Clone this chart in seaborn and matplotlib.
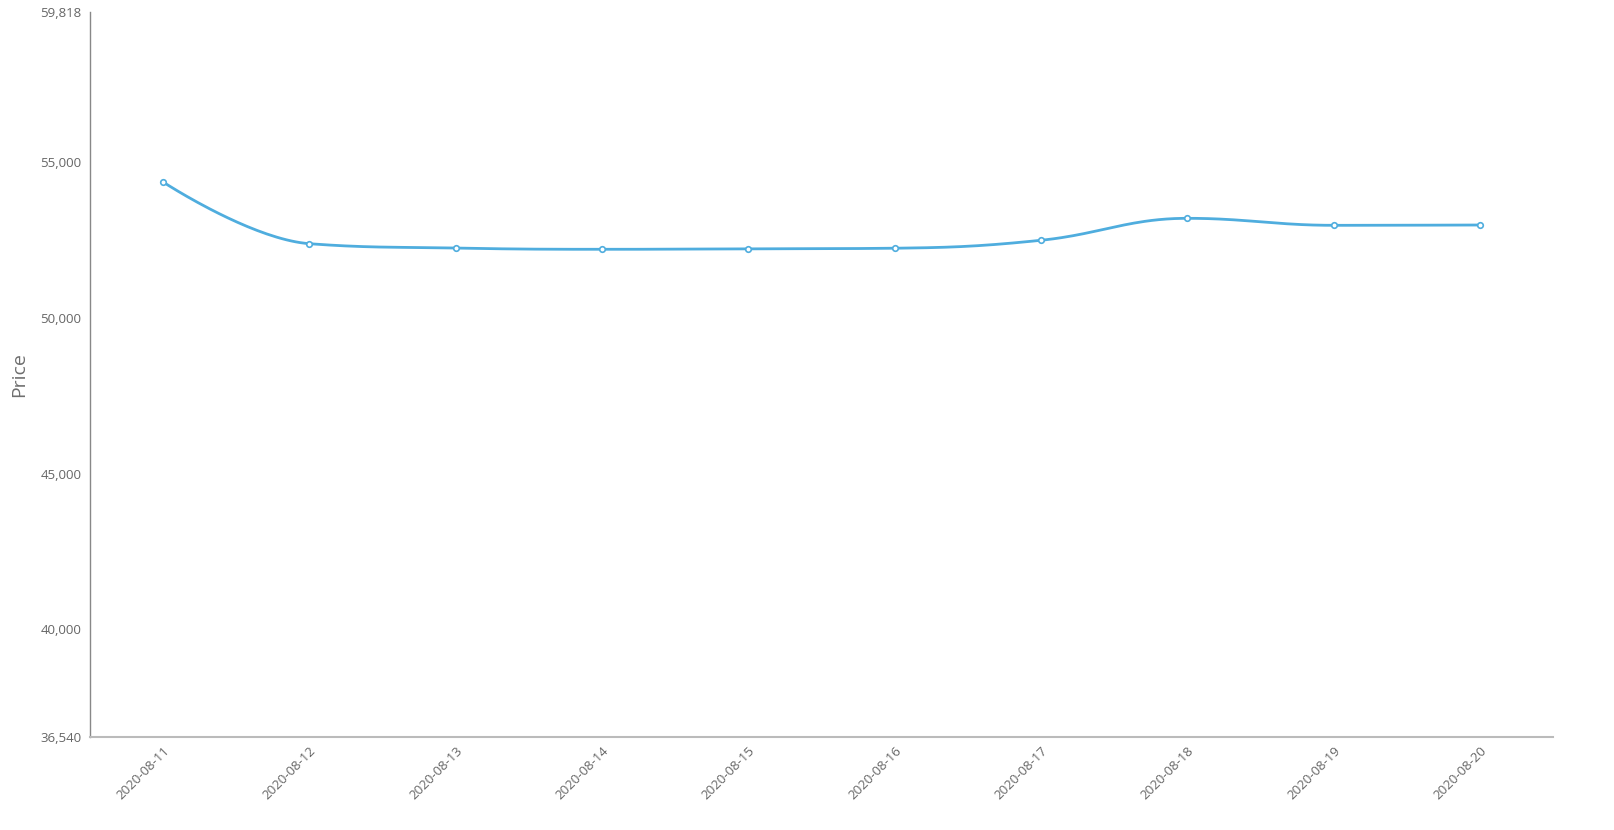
import numpy as np
import pandas as pd
import matplotlib
matplotlib.use('Agg')
import matplotlib.pyplot as plt
import seaborn as sns

dates = ['2020-08-11', '2020-08-12', '2020-08-13', '2020-08-14', '2020-08-15',
         '2020-08-16', '2020-08-17', '2020-08-18', '2020-08-19', '2020-08-20']
prices = [54360, 52380, 52240, 52200, 52215, 52235, 52490, 53195, 52970, 52980]
y_ticks = [36540, 40000, 45000, 50000, 55000, 59818]

sns.set_style('white')
plt.rcParams['font.family'] = ['Open Sans', 'DejaVu Sans']

df = pd.DataFrame({'date': dates, 'price': prices})
df['pos'] = np.arange(len(df))

# spline through the points with no overshoot past neighbours,
# worked out in pixel units so the shape matches the screen
def spline(x, y, sx, sy, sm=1.5, n=40):
    X = np.asarray(x, float) * sx
    Y = np.asarray(y, float) * sy
    k = len(X)
    lcx, lcy = X.copy(), Y.copy()
    rcx, rcy = X.copy(), Y.copy()
    den = sm + 1
    for i in range(1, k - 1):
        px, py = X[i], Y[i]
        lx, ly, nx, ny = X[i - 1], Y[i - 1], X[i + 1], Y[i + 1]
        a_x = (sm * px + lx) / den
        a_y = (sm * py + ly) / den
        b_x = (sm * px + nx) / den
        b_y = (sm * py + ny) / den
        corr = (b_y - a_y) * (b_x - px) / (b_x - a_x) + py - b_y
        a_y += corr
        b_y += corr
        if a_y > ly and a_y > py:
            a_y = max(ly, py)
            b_y = 2 * py - a_y
        elif a_y < ly and a_y < py:
            a_y = min(ly, py)
            b_y = 2 * py - a_y
        if b_y > ny and b_y > py:
            b_y = max(ny, py)
            a_y = 2 * py - b_y
        elif b_y < ny and b_y < py:
            b_y = min(ny, py)
            a_y = 2 * py - b_y
        lcx[i], lcy[i], rcx[i], rcy[i] = a_x, a_y, b_x, b_y
    t = np.linspace(0, 1, n, endpoint=False)
    xs, ys = [], []
    for i in range(k - 1):
        for P, C1, C2, Q, out in ((X[i], rcx[i], lcx[i + 1], X[i + 1], xs),
                                  (Y[i], rcy[i], lcy[i + 1], Y[i + 1], ys)):
            out.extend((1 - t) ** 3 * P + 3 * (1 - t) ** 2 * t * C1
                       + 3 * (1 - t) * t ** 2 * C2 + t ** 3 * Q)
    xs.append(X[-1])
    ys.append(Y[-1])
    return np.array(xs) / sx, np.array(ys) / sy

px_per_x = 1463 / len(dates)
px_per_y = 725 / (y_ticks[-1] - y_ticks[0])
cx, cy = spline(df['pos'], df['price'], px_per_x, px_per_y)
curve = pd.DataFrame({'x': cx, 'y': cy})

fig = plt.figure(figsize=(16.15, 8.3), dpi=100)
ax = fig.add_axes([0.0557, 0.112, 0.906, 0.8735])

line_color = '#4fadde'
sns.lineplot(data=curve, x='x', y='y', ax=ax, color=line_color, linewidth=2, sort=False)
sns.scatterplot(data=df, x='pos', y='price', ax=ax, color='white', edgecolor=line_color,
                linewidth=1.2, s=16, zorder=3)

ax.set_xlim(-0.5, len(dates) - 0.5)
ax.set_ylim(y_ticks[0], y_ticks[-1])
ax.set_yticks(y_ticks)
ax.set_yticklabels([f'{v:,}' for v in y_ticks])
ax.set_xticks(df['pos'])
ax.set_xticklabels(dates, rotation=45, ha='right', rotation_mode='anchor')
ax.tick_params(axis='both', length=0, labelsize=9.5, colors='#666666')
ax.tick_params(axis='y', pad=6)
ax.tick_params(axis='x', pad=5)
ax.set_xlabel('')
ax.set_ylabel('Price', fontsize=14, color='#6e6e6e')
ax.yaxis.set_label_coords(-0.0425, 0.5)

for s in ['top', 'right']:
    ax.spines[s].set_visible(False)
ax.spines['left'].set_color('#888888')
ax.spines['bottom'].set_color('#bbbbbb')
ax.spines['left'].set_linewidth(1)
ax.spines['bottom'].set_linewidth(1.5)

plt.savefig('out.png', dpi=100)
